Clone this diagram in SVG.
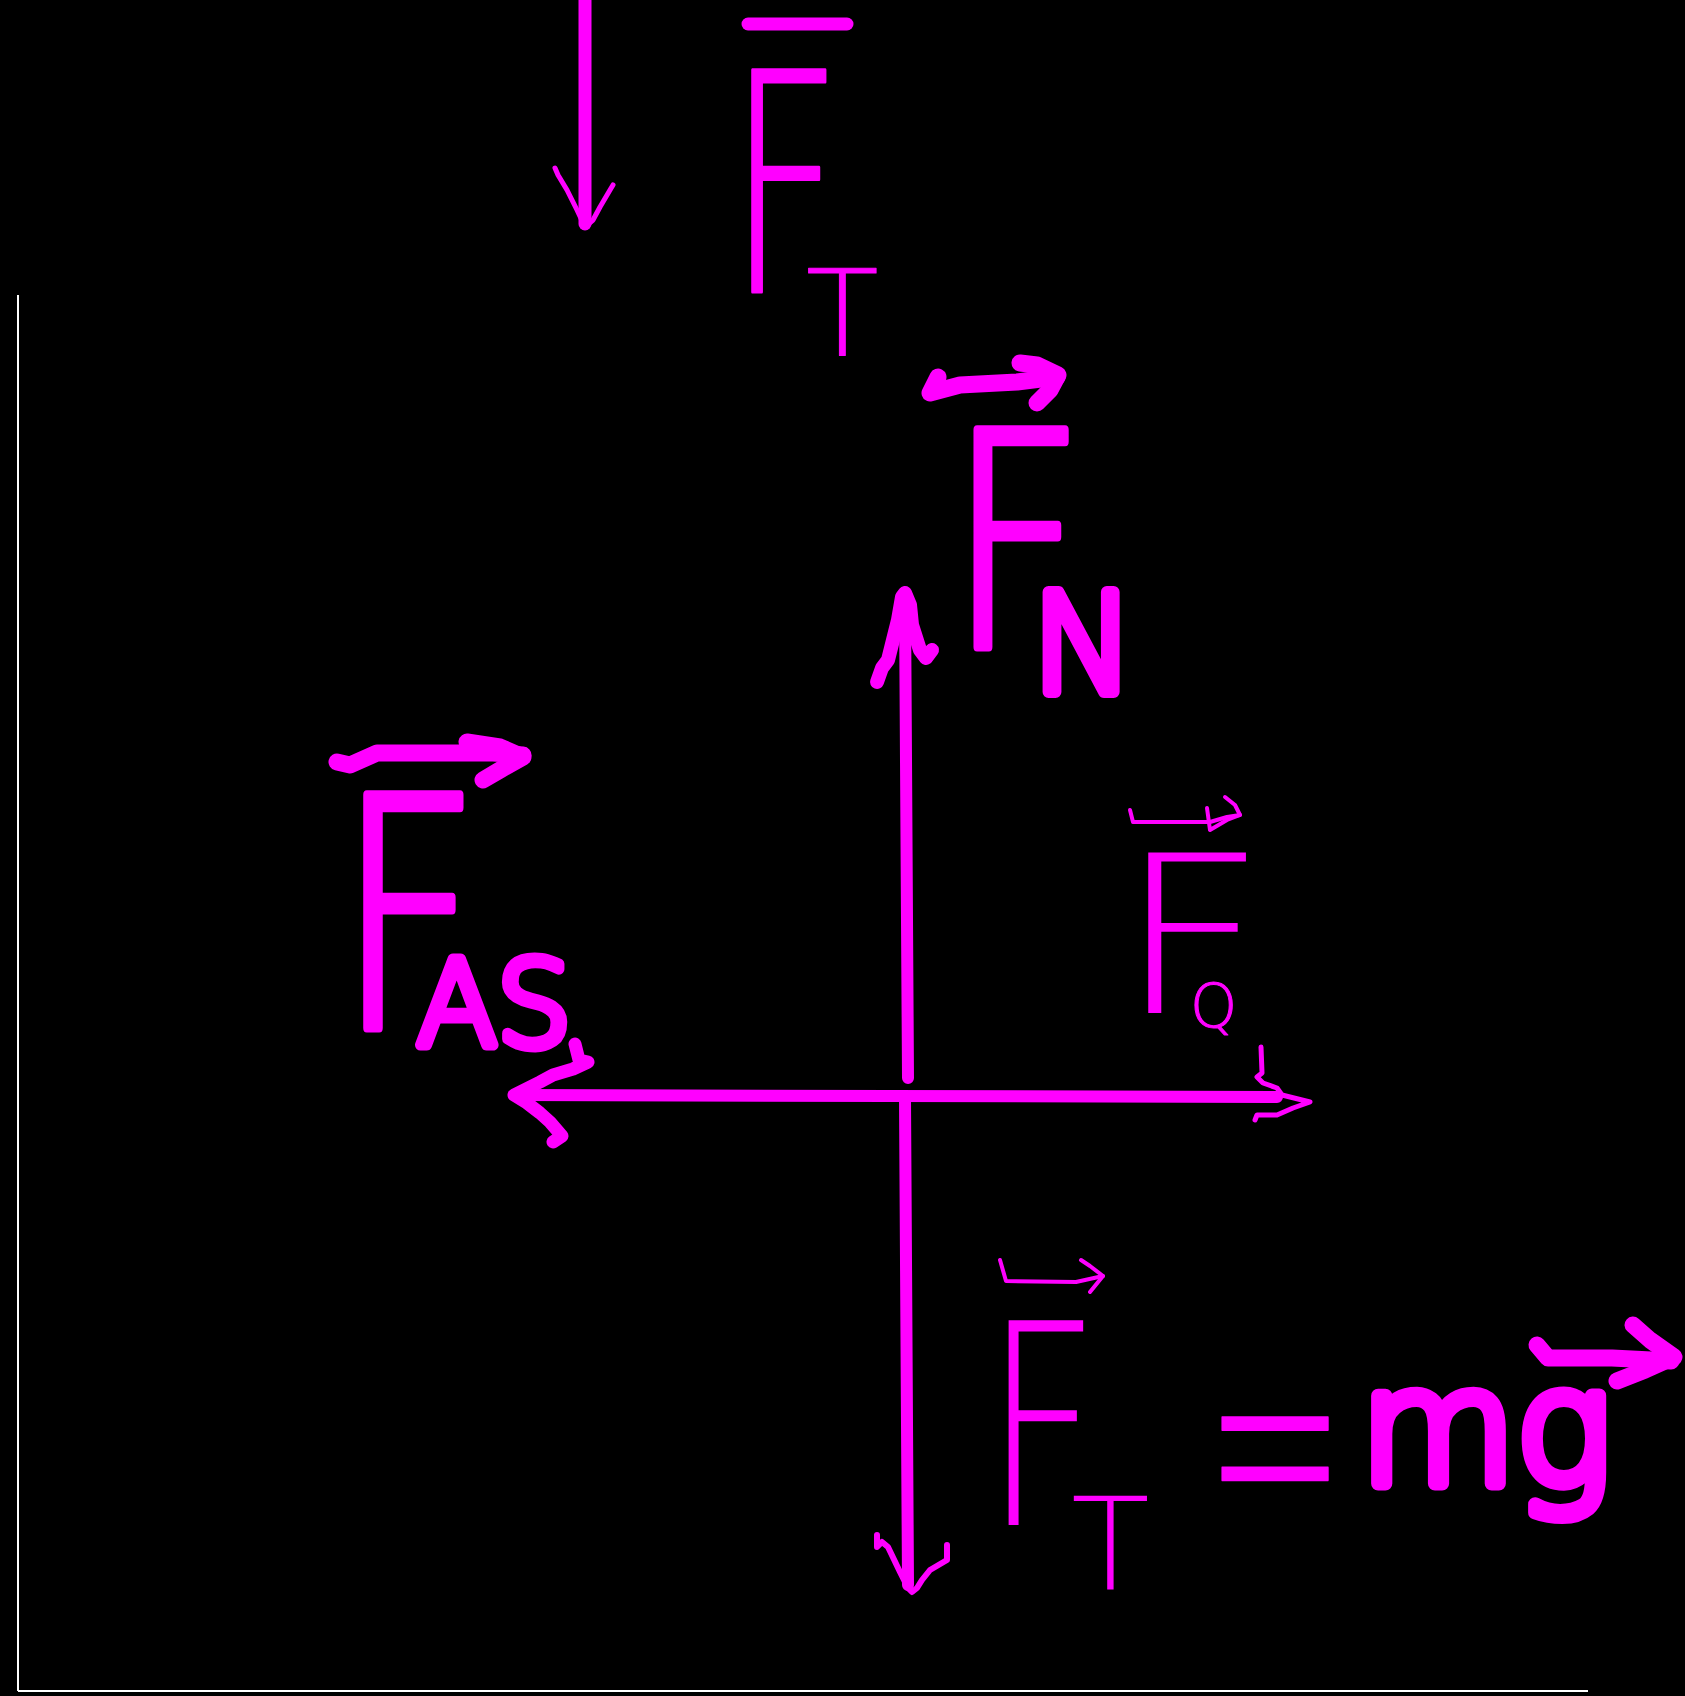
<svg xmlns="http://www.w3.org/2000/svg" width="1685" height="1696" viewBox="0 0 1685 1696">
<style>
.hw{font-family:"DejaVu Sans","Liberation Sans",sans-serif;font-weight:200;fill:#ff00ff;stroke:#ff00ff;stroke-linejoin:round;stroke-linecap:round}
.thick{fill:none;stroke:#ff00ff;stroke-linecap:round;stroke-linejoin:round}
.frame{stroke:#ffffff;stroke-width:2;fill:none}
</style>
<rect x="0" y="0" width="1685" height="1696" fill="#000000"/>
<g id="frame">
<line class="frame" x1="18" y1="295" x2="18" y2="1691"/>
<line class="frame" x1="18" y1="1691" x2="1588" y2="1691"/>
</g>
<g id="connectors">
<line class="thick" x1="585" y1="0" x2="585" y2="224" stroke-width="13"/>
<polyline class="thick" stroke-width="5" points="555,168 558,175 567,190 577,210 585,227 593,220 600,207 610,190 613,185"/>
<line class="thick" x1="908" y1="1078" x2="905" y2="600" stroke-width="12"/>
<polyline class="thick" stroke-width="14" points="877,682 882,668 888,660 893,640 898,620 902,597 905,593 910,605 912,625 920,650 926,658 932,650"/>
<line class="thick" x1="516" y1="1095" x2="1277" y2="1097" stroke-width="12"/>
<polyline class="thick" stroke-width="13" points="575,1044 579,1060 588,1062 573,1069 553,1075 540,1082 514,1095 527,1103 540,1113 550,1122 562,1136 553,1142"/>
<polyline class="thick" stroke-width="5" points="1261,1047 1262,1073 1257,1077 1263,1083 1277,1088 1282,1095 1310,1102 1293,1108 1277,1115 1257,1115 1255,1120"/>
<line class="thick" x1="905" y1="1098" x2="908" y2="1585" stroke-width="12"/>
<polyline class="thick" stroke-width="6" points="877,1535 877,1547 882,1542 888,1547 900,1572 908,1588 912,1592 917,1588 922,1580 930,1570 947,1560 947,1545"/>
</g>
<g id="label-FT-top">
<line class="thick" x1="748" y1="24" x2="847" y2="24" stroke-width="13"/>
<text class="hw"><tspan x="728" y="292" font-size="305" stroke-width="3" textLength="114" lengthAdjust="spacingAndGlyphs">F</tspan><tspan x="806" y="355" font-size="119" stroke-width="1">T</tspan></text>
</g>
<g id="label-FN">
<polyline class="thick" stroke-width="17" points="938,377 930,393 960,385 1017,382 1057,377"/>
<polyline class="thick" stroke-width="17" points="1020,363 1037,365 1058,375 1050,390 1037,403"/>
<text class="hw"><tspan x="948" y="647" font-size="298" stroke-width="9" textLength="137" lengthAdjust="spacingAndGlyphs">F</tspan><tspan x="1032" y="692" font-size="137" stroke-width="12">N</tspan></text>
</g>
<g id="label-FAS">
<polyline class="thick" stroke-width="17" points="337,762 350,765 377,753 493,753 523,755"/>
<polyline class="thick" stroke-width="17" points="467,742 500,747 523,757 500,770 483,780"/>
<text class="hw"><tspan x="336" y="1028" font-size="320" stroke-width="9" textLength="145" lengthAdjust="spacingAndGlyphs">F</tspan><tspan x="417" y="1045" font-size="117" stroke-width="11">AS</tspan></text>
</g>
<g id="label-FQ">
<polyline class="thick" stroke-width="4" points="1130,810 1133,822 1147,822 1210,822 1227,817 1240,815"/>
<polyline class="thick" stroke-width="4" points="1225,797 1235,805 1240,815 1227,820 1210,830 1207,808"/>
<text class="hw"><tspan x="1116" y="1013" font-size="220" stroke-width="0" textLength="152" lengthAdjust="spacingAndGlyphs">F</tspan><tspan x="1190" y="1027" font-size="60" stroke-width="1">Q</tspan></text>
</g>
<g id="label-FT-eq">
<polyline class="thick" stroke-width="4" points="1000,1260 1006,1281 1076,1282 1103,1276"/>
<polyline class="thick" stroke-width="4" points="1081,1260 1090,1266 1103,1276 1090,1292"/>
<text class="hw"><tspan x="984" y="1525" font-size="281" stroke-width="0" textLength="116" lengthAdjust="spacingAndGlyphs">F</tspan><tspan x="1071" y="1590" font-size="129" stroke-width="0">T</tspan></text>
<text class="hw" font-size="320" stroke-width="2" transform="translate(1204,1549) scale(0.53,1)">=</text>
<text class="hw" x="1360" y="1484" font-size="160" stroke-width="14">mg</text>
<polyline class="thick" stroke-width="17" points="1537,1345 1548,1358 1612,1358 1671,1361"/>
<polyline class="thick" stroke-width="17" points="1633,1325 1650,1340 1674,1357 1645,1370 1617,1381"/>
</g>
</svg>
